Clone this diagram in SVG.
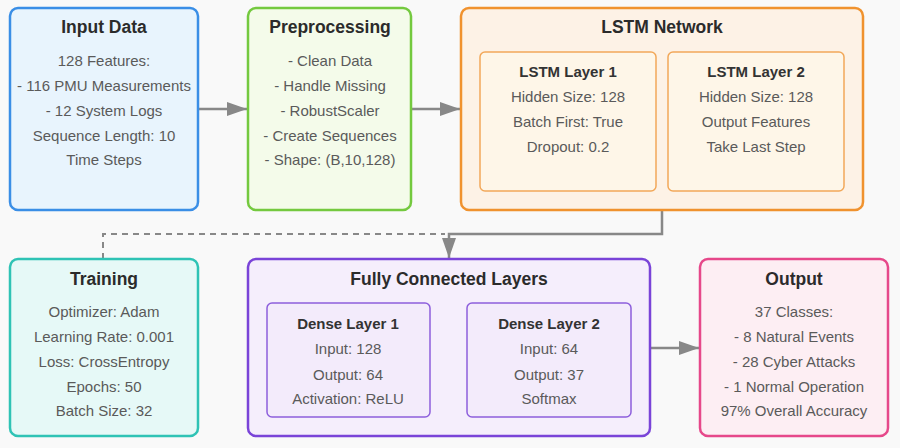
<svg xmlns="http://www.w3.org/2000/svg" width="900" height="448" viewBox="0 0 900 448">
<style>
  text { font-family: "Liberation Sans", Arial, sans-serif; text-anchor: middle; }
  .title { font-size: 17.5px; font-weight: bold; fill: #2b2b2b; }
  .sub { font-size: 15px; font-weight: bold; fill: #333333; }
  .body { font-size: 15px; fill: #5a5a5a; }
  .conn { stroke: #888888; stroke-width: 2.5; fill: none; }
  .dash { stroke: #888888; stroke-width: 2; fill: none; stroke-dasharray: 6 5; }
</style>
<defs>
  <marker id="arr" markerWidth="20" markerHeight="14" refX="20" refY="7" orient="auto" markerUnits="userSpaceOnUse">
    <path d="M0,0 L20,7 L0,14 Z" fill="#888888"/>
  </marker>
</defs>
<rect x="0" y="0" width="900" height="448" fill="#f9f9f9"/>

<g id="connectors">
  <line class="conn" x1="198" y1="109" x2="247" y2="109" marker-end="url(#arr)"/>
  <line class="conn" x1="411" y1="109" x2="460" y2="109" marker-end="url(#arr)"/>
  <path class="conn" d="M662,210 L662,234 L449,234 L449,258" marker-end="url(#arr)"/>
  <path class="dash" d="M103,259 L103,234 L445,234"/>
  <line class="conn" x1="650" y1="348" x2="699" y2="348" marker-end="url(#arr)"/>
</g>

<g id="input-data">
  <rect x="10" y="8" width="188" height="202" rx="8" fill="#e8f4fd" stroke="#3a8ee6" stroke-width="2.5"/>
  <text class="title" x="104" y="33">Input Data</text>
  <text class="body" x="104" y="66">128 Features:</text>
  <text class="body" x="104" y="91">- 116 PMU Measurements</text>
  <text class="body" x="104" y="116">- 12 System Logs</text>
  <text class="body" x="104" y="141">Sequence Length: 10</text>
  <text class="body" x="104" y="165">Time Steps</text>
</g>

<g id="preprocessing">
  <rect x="248" y="8" width="163" height="202" rx="8" fill="#f4fbea" stroke="#74c93f" stroke-width="2.5"/>
  <text class="title" x="330" y="33">Preprocessing</text>
  <text class="body" x="330" y="66">- Clean Data</text>
  <text class="body" x="330" y="91">- Handle Missing</text>
  <text class="body" x="330" y="116">- RobustScaler</text>
  <text class="body" x="330" y="141">- Create Sequences</text>
  <text class="body" x="330" y="165">- Shape: (B,10,128)</text>
</g>

<g id="lstm-network">
  <rect x="461" y="8" width="402" height="202" rx="8" fill="#fdf2e6" stroke="#f0922e" stroke-width="2.5"/>
  <text class="title" x="662" y="33">LSTM Network</text>
  <g id="lstm-layer-1">
    <rect x="480" y="52" width="176" height="139" rx="5" fill="#fef6e8" stroke="#f2a85a" stroke-width="1.5"/>
    <text class="sub" x="568" y="77">LSTM Layer 1</text>
    <text class="body" x="568" y="102">Hidden Size: 128</text>
    <text class="body" x="568" y="127">Batch First: True</text>
    <text class="body" x="568" y="152">Dropout: 0.2</text>
  </g>
  <g id="lstm-layer-2">
    <rect x="668" y="52" width="176" height="139" rx="5" fill="#fef6e8" stroke="#f2a85a" stroke-width="1.5"/>
    <text class="sub" x="756" y="77">LSTM Layer 2</text>
    <text class="body" x="756" y="102">Hidden Size: 128</text>
    <text class="body" x="756" y="127">Output Features</text>
    <text class="body" x="756" y="152">Take Last Step</text>
  </g>
</g>

<g id="training">
  <rect x="10" y="259" width="188" height="177" rx="8" fill="#e6f9f7" stroke="#2fc3b5" stroke-width="2.5"/>
  <text class="title" x="104" y="285">Training</text>
  <text class="body" x="104" y="317">Optimizer: Adam</text>
  <text class="body" x="104" y="342">Learning Rate: 0.001</text>
  <text class="body" x="104" y="367">Loss: CrossEntropy</text>
  <text class="body" x="104" y="392">Epochs: 50</text>
  <text class="body" x="104" y="416">Batch Size: 32</text>
</g>

<g id="fully-connected">
  <rect x="248" y="259" width="402" height="177" rx="8" fill="#f5eefc" stroke="#7a44d8" stroke-width="2.5"/>
  <text class="title" x="449" y="285">Fully Connected Layers</text>
  <g id="dense-layer-1">
    <rect x="267" y="303" width="163" height="114" rx="5" fill="#f3ebfb" stroke="#8d5fdc" stroke-width="1.5"/>
    <text class="sub" x="348" y="329">Dense Layer 1</text>
    <text class="body" x="348" y="354">Input: 128</text>
    <text class="body" x="348" y="380">Output: 64</text>
    <text class="body" x="348" y="404">Activation: ReLU</text>
  </g>
  <g id="dense-layer-2">
    <rect x="467" y="303" width="164" height="114" rx="5" fill="#f3ebfb" stroke="#8d5fdc" stroke-width="1.5"/>
    <text class="sub" x="549" y="329">Dense Layer 2</text>
    <text class="body" x="549" y="354">Input: 64</text>
    <text class="body" x="549" y="380">Output: 37</text>
    <text class="body" x="549" y="404">Softmax</text>
  </g>
</g>

<g id="output">
  <rect x="700" y="259" width="188" height="177" rx="8" fill="#fdeef3" stroke="#e6488a" stroke-width="2.5"/>
  <text class="title" x="794" y="285">Output</text>
  <text class="body" x="794" y="317">37 Classes:</text>
  <text class="body" x="794" y="342">- 8 Natural Events</text>
  <text class="body" x="794" y="367">- 28 Cyber Attacks</text>
  <text class="body" x="794" y="392">- 1 Normal Operation</text>
  <text class="body" x="794" y="416">97% Overall Accuracy</text>
</g>
</svg>
